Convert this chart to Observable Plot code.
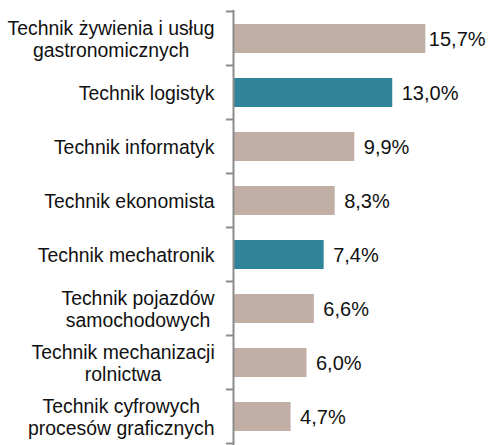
<!DOCTYPE html>
<html><head><meta charset="utf-8">
<script src="https://cdn.jsdelivr.net/npm/d3@7"></script>
<script src="https://cdn.jsdelivr.net/npm/@observablehq/plot@0.6"></script>
<style>body{margin:0;background:#fff;overflow:hidden}</style></head>
<body><div id="chart"></div>
<script>
const categories = [
  "Technik żywienia i usług\ngastronomicznych",
  "Technik logistyk",
  "Technik informatyk",
  "Technik ekonomista",
  "Technik mechatronik",
  "Technik pojazdów\nsamochodowych",
  "Technik mechanizacji\nrolnictwa",
  "Technik cyfrowych\nprocesów graficznych"
];
const values = [15.7, 13.0, 9.9, 8.3, 7.4, 6.6, 6.0, 4.7];
const highlighted = ["Technik logistyk", "Technik mechatronik"];
const groupColors = {base: "#c1aea5", highlight: "#2f8499"};

const data = categories.map((c, i) => ({
  category: c,
  value: values[i],
  group: highlighted.includes(c) ? "highlight" : "base"
}));
const fmt = d => d.value.toFixed(1).replace(".", ",") + "%";

const chart = Plot.plot({
  width: 488, height: 445,
  marginLeft: 233, marginRight: 10, marginTop: 10, marginBottom: 0,
  style: {fontFamily: "'Liberation Sans', Arial, sans-serif", background: "#fff"},
  x: {domain: [0, 20], axis: null},
  y: {domain: categories, paddingInner: 0.46, paddingOuter: 0.23},
  color: {domain: Object.keys(groupColors), range: Object.values(groupColors)},
  marks: [
    Plot.barX(data, {y: "category", x: "value", fill: "group"}),
    Plot.text(data.filter(d => d.value < 15), {
      y: "category", x: "value", text: fmt,
      textAnchor: "start", dx: 9, dy: 1, fontSize: 20, fill: "#111"
    }),
    Plot.text(data.filter(d => d.value >= 15), {
      y: "category", x: "value", text: fmt,
      textAnchor: "start", dx: 3, dy: 1, fontSize: 20, fill: "#111"
    }),
    Plot.axisY({tickSize: 0, tickPadding: 19, fontSize: 19.4, lineHeight: 1.13, fill: "#111", label: null}),
    Plot.ruleX([0], {stroke: "#8c8c8c", strokeWidth: 2})
  ]
});

// category boundary ticks on the left of the axis line, derived from the scales
const ys = chart.scale("y");
const xs = chart.scale("x");
const x0 = xs.apply(0);
const gap = (ys.step - ys.bandwidth) / 2;
const edges = categories.map(c => ys.apply(c) - gap);
edges.push(ys.apply(categories[categories.length - 1]) + ys.bandwidth + gap);
d3.select(chart).append("g")
  .selectAll("line").data(edges).join("line")
  .attr("x1", x0 - 7).attr("x2", x0)
  .attr("y1", d => d).attr("y2", d => d)
  .attr("stroke", "#8c8c8c").attr("stroke-width", 2);

document.getElementById("chart").appendChild(chart);

// center multi-line labels within their block, keeping the block right-aligned
d3.select(chart).selectAll("g[aria-label='y-axis tick label'] text").each(function() {
  const bb = this.getBBox();
  const right = bb.x + bb.width;
  this.setAttribute("text-anchor", "middle");
  const bb2 = this.getBBox();
  const shift = right - (bb2.x + bb2.width);
  const t = this.getAttribute("transform") || "";
  this.setAttribute("transform", (t + ` translate(${shift},0)`).trim());
});
</script>
</body></html>
